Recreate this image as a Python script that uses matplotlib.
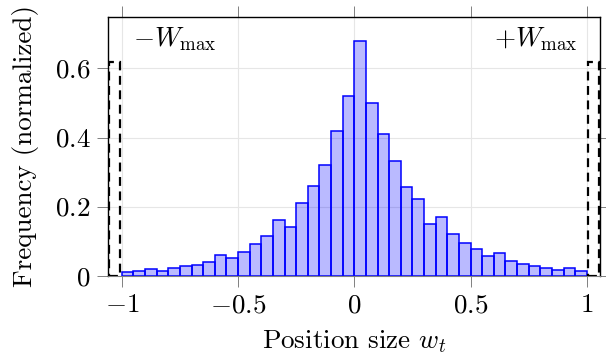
import matplotlib
matplotlib.use("Agg")
import matplotlib.pyplot as plt
import numpy as np

plt.rcParams['font.family'] = 'serif'
plt.rcParams['font.serif'] = ['cmr10']
plt.rcParams['mathtext.fontset'] = 'cm'
plt.rcParams['axes.formatter.use_mathtext'] = True

# Histogram bin left edges (width 0.05) from -1 to 1
bin_edges = [round(-1 + 0.05 * i, 2) for i in range(41)]
freq = [0.010, 0.0125, 0.018, 0.015, 0.021, 0.029, 0.030, 0.040, 0.061, 0.050,
        0.069, 0.091, 0.116, 0.160, 0.140, 0.211, 0.260, 0.321, 0.420, 0.521,
        0.681, 0.501, 0.411, 0.331, 0.256, 0.221, 0.151, 0.171, 0.120, 0.095,
        0.076, 0.056, 0.065, 0.042, 0.033, 0.028, 0.023, 0.016, 0.021, 0.0135]

# Saturated mass at +/- W_max
sat_pos = [-1.03, 1.03]
sat_freq = [0.62, 0.62]
sat_labels = [r'$-W_{\max}$', r'$+W_{\max}$']

xticks = [-1, -0.5, 0, 0.5, 1]
xtick_labels = [r'$-1$', r'$-0.5$', r'$0$', r'$0.5$', r'$1$']
yticks = [0, 0.2, 0.4, 0.6]
ytick_labels = [r'$0$', r'$0.2$', r'$0.4$', r'$0.6$']

fig = plt.figure(figsize=(6.06, 3.58), dpi=100)
ax = fig.add_axes([0.1787, 0.2299, 0.9905 - 0.1787, 0.9534 - 0.2299])

ax.set_axisbelow(True)
ax.grid(True, color='#e6e6e6', linewidth=0.8)

edges = np.array(bin_edges)
ax.bar(edges[:-1], freq, width=np.diff(edges), align='edge',
       facecolor=(0, 0, 1, 0.27), edgecolor='blue', linewidth=1.1, zorder=2)

ax.bar(sat_pos, sat_freq, width=0.048, fill=False, edgecolor='black',
       linestyle=(0, (4, 2.5)), linewidth=1.6, zorder=3)

fs = 19.5
ax.text(-0.952, 0.725, sat_labels[0], fontsize=fs, ha='left', va='top')
ax.text(0.96, 0.725, sat_labels[1], fontsize=fs, ha='right', va='top')

ax.set_xlim(-1.058, 1.058)
ax.set_ylim(0, 0.75)
ax.set_xticks(xticks)
ax.set_xticklabels(xtick_labels, fontsize=fs)
ax.set_yticks(yticks)
ax.set_yticklabels(ytick_labels, fontsize=fs)
ax.tick_params(direction='out', length=8, width=0.7, color='#808080',
               top=True, right=True, pad=5)

for s in ['left', 'top', 'right']:
    ax.spines[s].set_color('black')
    ax.spines[s].set_linewidth(1.0)
ax.spines['bottom'].set_color('#808080')
ax.spines['bottom'].set_linewidth(0.8)

ax.set_xlabel(r'Position size $w_t$', fontsize=fs, labelpad=8)
ax.set_ylabel('Frequency (normalized)', fontsize=fs, labelpad=11)

fig.savefig('out.png', dpi=100)
